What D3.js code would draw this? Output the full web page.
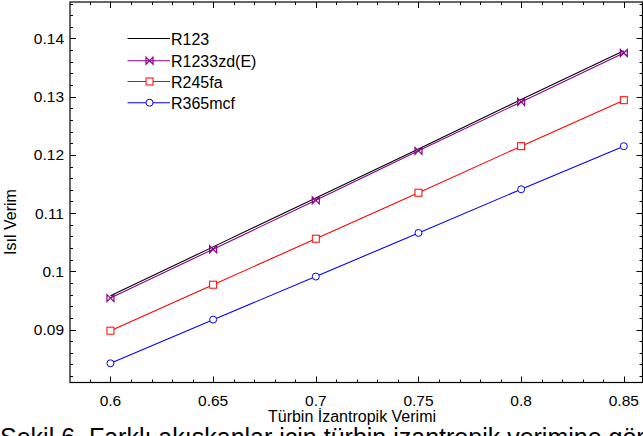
<!DOCTYPE html>
<html>
<head>
<meta charset="utf-8">
<script src="https://cdn.jsdelivr.net/npm/d3@7"></script>
<style>
  body { margin: 0; background: #fff; }
  svg { display: block; }
  text { font-family: "Liberation Sans", Arial, sans-serif; fill: #000; }
</style>
</head>
<body>
<svg id="chart" width="643" height="436"></svg>
<script>
// turbine isentropic efficiency (x) and thermal efficiency per fluid
const turbineEff = [0.6, 0.65, 0.7, 0.75, 0.8, 0.85];
const r123      = [0.0958, 0.1042, 0.1126, 0.1210, 0.1295, 0.1379];
const r1233zd   = [0.0954, 0.1038, 0.1122, 0.1207, 0.1291, 0.1375];
const r245fa    = [0.0898, 0.0977, 0.1056, 0.1135, 0.1215, 0.1294];
const r365mcf   = [0.0842, 0.0917, 0.0991, 0.1066, 0.1141, 0.1215];
const xTicks = [0.6, 0.65, 0.7, 0.75, 0.8, 0.85];
const yTicks = [0.09, 0.1, 0.11, 0.12, 0.13, 0.14];

const series = [
  {name: "R123",      values: r123,    color: "#000000", marker: "none"},
  {name: "R1233zd(E)", values: r1233zd, color: "#8b008b", marker: "bowtie"},
  {name: "R245fa",    values: r245fa,  color: "#ff0000", marker: "square"},
  {name: "R365mcf",   values: r365mcf, color: "#0000ff", marker: "circle"}
];

const svg = d3.select("#chart");
const plotL = 70, plotR = 642.5, plotT = 2, plotB = 382.5;

const x = d3.scaleLinear().domain([0.5803, 0.8591]).range([plotL, plotR]);
const y = d3.scaleLinear().domain([0.0809, 0.14627]).range([plotB, plotT]);

// frame
svg.append("rect")
   .attr("x", plotL).attr("y", plotT)
   .attr("width", plotR - plotL).attr("height", plotB - plotT)
   .attr("fill", "none").attr("stroke", "#000").attr("stroke-width", 1.2);

// ticks (inside, mirrored on all four sides)
const xMinor = d3.range(0.59, 0.8591, 0.01);
const yMinor = d3.range(0.082, 0.1462, 0.002);
const isMajorX = v => xTicks.some(t => Math.abs(t - v) < 1e-6);
const isMajorY = v => yTicks.some(t => Math.abs(t - v) < 1e-6);

const tickG = svg.append("g").attr("stroke", "#000").attr("stroke-width", 1);
xMinor.forEach(v => {
  const len = isMajorX(v) ? 6 : 3;
  const px = Math.round(x(v)) + 0.5;
  tickG.append("line").attr("x1", px).attr("x2", px).attr("y1", plotB).attr("y2", plotB - len);
  tickG.append("line").attr("x1", px).attr("x2", px).attr("y1", plotT).attr("y2", plotT + len);
});
yMinor.forEach(v => {
  const len = isMajorY(v) ? 6 : 3;
  const py = Math.round(y(v)) + 0.5;
  tickG.append("line").attr("y1", py).attr("y2", py).attr("x1", plotL).attr("x2", plotL + len);
  tickG.append("line").attr("y1", py).attr("y2", py).attr("x1", plotR).attr("x2", plotR - len);
});

// tick labels
svg.append("g").selectAll("text").data(xTicks).join("text")
   .attr("x", d => x(d)).attr("y", 406)
   .attr("text-anchor", "middle").attr("font-size", 15.5)
   .text(d => String(d));
svg.append("g").selectAll("text").data(yTicks).join("text")
   .attr("x", 64).attr("y", d => y(d) + 5.5)
   .attr("text-anchor", "end").attr("font-size", 15.5)
   .text(d => String(d));

// axis titles
svg.append("text")
   .attr("x", 352).attr("y", 422)
   .attr("text-anchor", "middle").attr("font-size", 16)
   .text("Türbin İzantropik Verimi");
svg.append("text")
   .attr("transform", "translate(16,222) rotate(-90)")
   .attr("text-anchor", "middle").attr("font-size", 16)
   .text("Isıl Verim");

// markers
function drawMarker(g, type, color) {
  if (type === "square") {
    g.append("rect").attr("x", -3.5).attr("y", -3.5).attr("width", 7).attr("height", 7)
     .attr("fill", "#fff").attr("stroke", color).attr("stroke-width", 1);
  } else if (type === "circle") {
    g.append("circle").attr("r", 3.5)
     .attr("fill", "#fff").attr("stroke", color).attr("stroke-width", 1);
  } else if (type === "bowtie") {
    g.append("path").attr("d", "M-3.5,-3.5L3.5,3.5L3.5,-3.5L-3.5,3.5Z")
     .attr("fill", "none").attr("stroke", color).attr("stroke-width", 1.2);
  }
}

const line = d3.line().x(d => x(d[0])).y(d => y(d[1]));

series.forEach(s => {
  const pts = turbineEff.map((t, i) => [t, s.values[i]]);
  svg.append("path").datum(pts)
     .attr("d", line)
     .attr("fill", "none").attr("stroke", s.color).attr("stroke-width", 1.1);
  pts.forEach(p => {
    const g = svg.append("g").attr("transform", `translate(${x(p[0])},${y(p[1])})`);
    drawMarker(g, s.marker, s.color);
  });
});

// legend
const legend = svg.append("g");
const legendY = [38.5, 60.7, 81.5, 102.7];
series.forEach((s, i) => {
  const row = legend.append("g").attr("transform", `translate(0,${legendY[i]})`);
  row.append("line").attr("x1", 127.5).attr("x2", 170).attr("y1", 0).attr("y2", 0)
     .attr("stroke", s.color).attr("stroke-width", 1.1);
  const m = row.append("g").attr("transform", "translate(149.5,0)");
  drawMarker(m, s.marker, s.color);
  row.append("text").attr("x", 171).attr("y", 6).attr("font-size", 16).text(s.name);
});

// figure caption (cut by the image edge)
svg.append("text")
   .attr("x", 0).attr("y", 446)
   .attr("font-family", "'Liberation Serif', 'Times New Roman', serif")
   .attr("font-size", 25)
   .text("Şekil 6. Farklı akışkanlar için türbin izantropik verimine göre");
</script>
</body>
</html>
